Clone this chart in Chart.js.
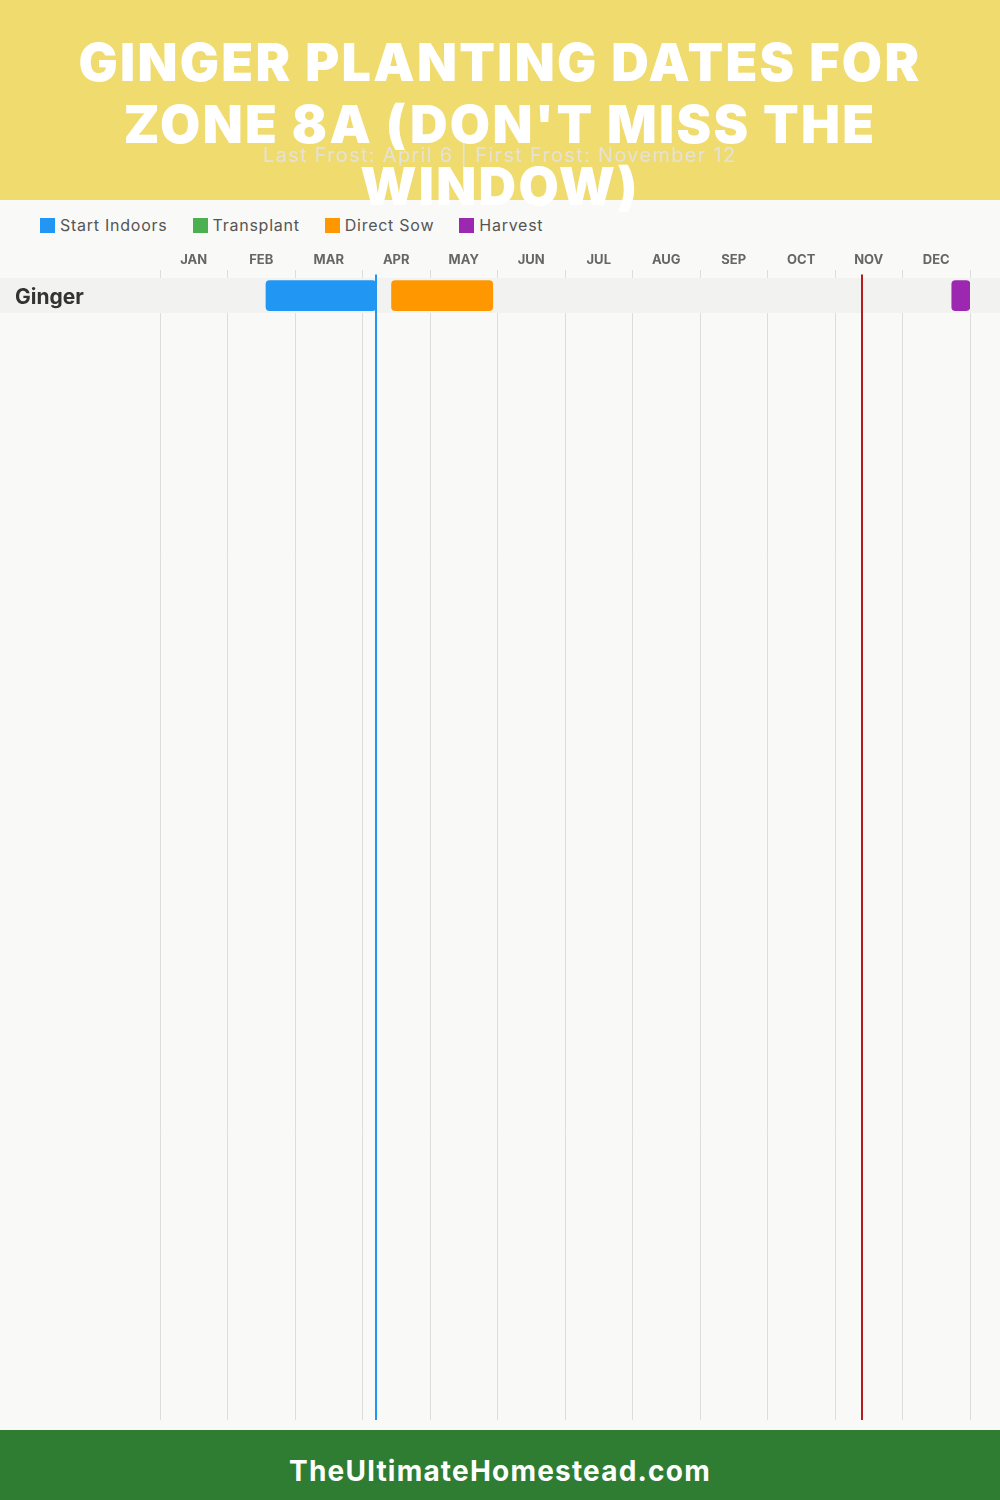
<!DOCTYPE html>
<html>
<head>
<meta charset="utf-8">
<script src="https://cdn.jsdelivr.net/npm/chart.js@4/dist/chart.umd.min.js"></script>
<style>
  html, body { margin: 0; padding: 0; }
  body { width: 1000px; height: 1500px; position: relative; background: #F9F9F7; font-family: Inter, "Open Sans", sans-serif; overflow: hidden; }
  #header { position: absolute; left: 0; top: 0; width: 1000px; height: 200px; background: #F0DB6E; z-index: 3; }
  #title { position: absolute; left: 0; top: 32px; width: 1000px; margin: 0; text-align: center; color: #fff; font-family: Inter, sans-serif; font-weight: 900; font-size: 52px; line-height: 62px; letter-spacing: 2.3px; }
  #subtitle { position: absolute; left: 0; top: 143px; width: 1000px; text-align: center; color: #E4E2D6; font-size: 20px; font-family: Inter, sans-serif; font-weight: 400; letter-spacing: 1.3px; z-index: 4; }
  #legend { position: absolute; left: 40px; top: 215px; display: flex; font-size: 16px; color: #555; letter-spacing: 0.75px; z-index: 2; }
  .li { display: flex; align-items: center; margin-right: 25px; }
  .sw { width: 15px; height: 15px; margin-right: 5px; }
  #chartBox { position: absolute; left: 0; top: 240px; width: 1000px; height: 1180px; }
  #footer { position: absolute; left: 0; top: 1430px; width: 1000px; height: 70px; background: #2E7D32; color: #fff; text-align: center; font-weight: 700; font-size: 28px; letter-spacing: 1.2px; }
  #footer span { position: relative; top: 24px; }
</style>
</head>
<body>
<div id="header">
  <h1 id="title">GINGER PLANTING DATES FOR<br>ZONE 8A (DON'T MISS THE<br>WINDOW)</h1>
  <div id="subtitle">Last Frost: April 6 | First Frost: November 12</div>
</div>
<div id="legend"></div>
<div id="chartBox"><canvas id="c"></canvas></div>
<div id="footer"><span>TheUltimateHomestead.com</span></div>
<script>
// ---- data (month units: 0 = Jan 1, 12 = Dec 31) ----
const months = ['JAN','FEB','MAR','APR','MAY','JUN','JUL','AUG','SEP','OCT','NOV','DEC'];
const crops = ['Ginger'];
const seriesNames = ['Start Indoors', 'Transplant', 'Direct Sow', 'Harvest'];
const seriesColors = ['#2196F3', '#4CAF50', '#FF9800', '#9C27B0'];
const startIndoors = [[1.57, 3.2]];
const transplant = [null];
const directSow = [[3.43, 4.93]];
const harvest = [[11.73, 12.0]];
const lastFrost = 3.2;   // April 6
const firstFrost = 10.4; // November 12
const frostColors = ['#2196F3', '#B71C1C'];

// legend
const lg = document.getElementById('legend');
seriesNames.forEach((n, i) => {
  const d = document.createElement('div'); d.className = 'li';
  d.innerHTML = '<span class="sw" style="background:' + seriesColors[i] + '"></span>' + n;
  lg.appendChild(d);
});

const Y_MIN = -0.23, Y_MAX = 32.63;
const seriesData = [startIndoors, transplant, directSow, harvest];
const datasets = seriesData.map((arr, i) => ({
  type: 'bar',
  label: seriesNames[i],
  data: arr.map((r, k) => r ? { x: r, y: k + 0.5 } : null).filter(Boolean),
  backgroundColor: seriesColors[i],
  borderRadius: 4,
  borderSkipped: false,
  barThickness: 30,
  grouped: false,
  order: 2
}));
[lastFrost, firstFrost].forEach((v, i) => {
  datasets.push({
    type: 'line',
    label: i === 0 ? 'Last Frost' : 'First Frost',
    data: [{ x: v, y: -0.1 }, { x: v, y: Y_MAX }],
    borderColor: frostColors[i],
    borderWidth: 2,
    pointRadius: 0,
    fill: false,
    order: 1
  });
});

const bandPlugin = {
  id: 'band',
  beforeDatasetsDraw(chart) {
    const y = chart.scales.y, ctx = chart.ctx;
    ctx.save();
    ctx.fillStyle = '#F2F2F0';
    crops.forEach((c, k) => {
      const t = y.getPixelForValue(k), b = y.getPixelForValue(k + 1);
      ctx.fillRect(0, t, chart.width, b - t);
    });
    ctx.restore();
  }
};

new Chart(document.getElementById('c'), {
  type: 'bar',
  data: { datasets },
  options: {
    indexAxis: 'y',
    responsive: true,
    maintainAspectRatio: false,
    animation: false,
    layout: { padding: { left: 15, right: 30, top: 0, bottom: 0 } },
    plugins: { legend: { display: false }, tooltip: { enabled: false } },
    scales: {
      x: {
        type: 'linear', position: 'top', min: 0, max: 12, offset: false,
        afterBuildTicks: s => { s.ticks = months.map((m, i) => ({ value: i })).concat([{ value: 12 }]); },
        afterFit: s => { s.height = 30; s.paddingLeft = 0; s.paddingRight = 0; },
        grid: { color: '#DDDDDD', lineWidth: 1, drawTicks: false },
        border: { display: false },
        ticks: {
          callback: (v, i) => months[i] || '',
          labelOffset: 33.75,
          padding: 2,
          maxRotation: 0,
          autoSkip: false,
          color: '#666',
          font: { family: 'Inter, sans-serif', weight: 'bold', size: 13 }
        }
      },
      y: {
        type: 'linear', reverse: true, min: Y_MIN, max: Y_MAX, offset: false,
        afterBuildTicks: s => { s.ticks = crops.map((c, k) => ({ value: k + 0.55 })); },
        afterFit: s => { s.width = 145; s.paddingTop = 0; s.paddingBottom = 0; },
        grid: { display: false, drawTicks: false },
        border: { display: false },
        ticks: {
          z: 1,
          callback: (v, i) => crops[i] || '',
          crossAlign: 'far',
          padding: 0,
          color: '#333',
          font: { family: 'Inter, sans-serif', weight: 'bold', size: 21 }
        }
      }
    }
  },
  plugins: [bandPlugin]
});
</script>
</body>
</html>
